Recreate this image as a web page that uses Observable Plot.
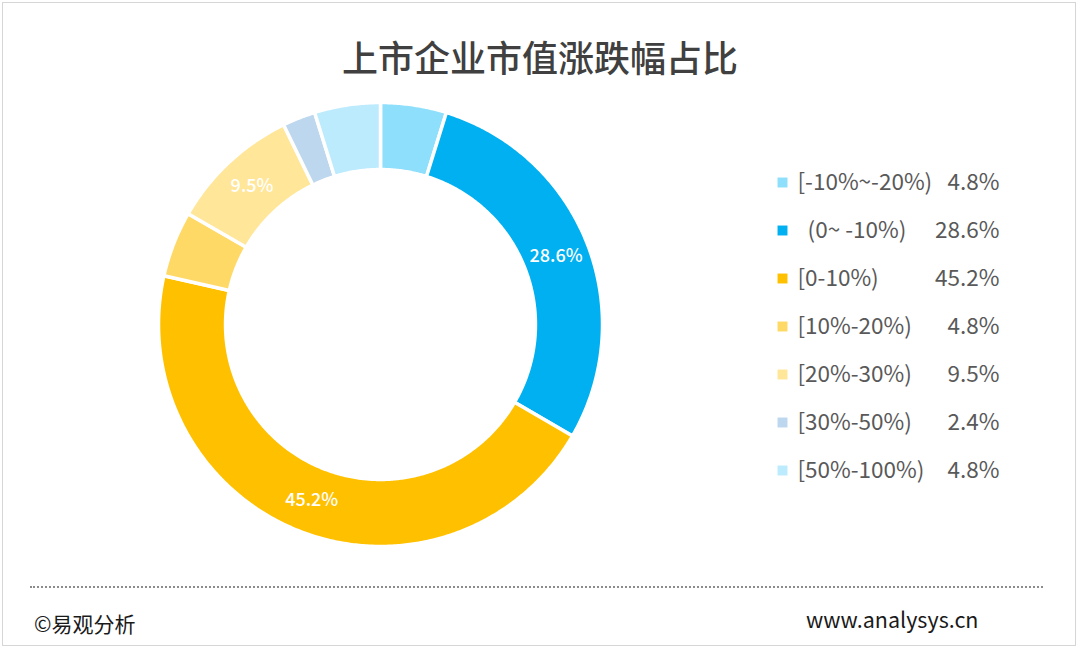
<!DOCTYPE html>
<html>
<head>
<meta charset="utf-8">
<script src="https://cdn.jsdelivr.net/npm/d3@7"></script>
<script src="https://cdn.jsdelivr.net/npm/@observablehq/plot@0.6"></script>
<style>
  html, body { margin: 0; padding: 0; background: #fff; }
  #wrap { position: relative; width: 1080px; height: 650px; overflow: hidden; font-family: "Noto Sans CJK SC", "Noto Sans", sans-serif; }
  #frame { position: absolute; left: 2px; top: 2px; width: 1074px; height: 644px; border: 1px solid #d6d6d6; box-sizing: border-box; }
  #title { position: absolute; left: 0; width: 1080px; top: 31px; text-align: center; font-size: 36px; color: #404040; line-height: 50px; font-weight: 500; }
  #donut { position: absolute; left: 150px; top: 94px; }
  #legend { position: absolute; left: 770px; top: 150px; }
  #dots { position: absolute; left: 30px; width: 1013px; top: 586px; border-top: 2px dotted #8c8c8c; }
  #src { position: absolute; left: 34px; top: 608px; font-size: 21px; color: #1a1a1a; line-height: 30px; }
  #url { position: absolute; left: 806px; top: 604px; font-size: 21.5px; color: #1a1a1a; line-height: 30px; }
</style>
</head>
<body>
<div id="wrap">
  <div id="frame"></div>
  <div id="title"></div>
  <div id="donut"></div>
  <div id="legend"></div>
  <div id="dots"></div>
  <div id="src">©易观分析</div>
  <div id="url">www.analysys.cn</div>
</div>
<script>
const titleText = "上市企业市值涨跌幅占比";
const categories = ["[-10%~-20%)", "\u00a0\u00a0(0~ -10%)", "[0-10%)", "[10%-20%)", "[20%-30%)", "[30%-50%)", "[50%-100%)"];
const values = [4.8, 28.6, 45.2, 4.8, 9.5, 2.4, 4.8];
const colors = ["#8EDFFB", "#00B0F0", "#FFC000", "#FFD966", "#FFE699", "#BDD7EE", "#BDEBFE"];

document.getElementById("title").textContent = titleText;

const innerRatio = 0.698;
const pie = d3.pie().sort(null).value(d => d.value)(categories.map((c, i) => ({cat: c, value: values[i]})));

// ring polygons from pie angles (clockwise from top)
const ringPts = [];
pie.forEach(p => {
  const steps = Math.max(2, Math.ceil((p.endAngle - p.startAngle) / (Math.PI / 360)));
  const pts = [];
  for (let k = 0; k <= steps; k++) {
    const a = p.startAngle + (p.endAngle - p.startAngle) * k / steps;
    pts.push({cat: p.data.cat, x: Math.sin(a), y: Math.cos(a)});
  }
  for (let k = steps; k >= 0; k--) {
    const a = p.startAngle + (p.endAngle - p.startAngle) * k / steps;
    pts.push({cat: p.data.cat, x: innerRatio * Math.sin(a), y: innerRatio * Math.cos(a)});
  }
  pts.push({...pts[0]});
  ringPts.push(...pts);
});

const midR = (1 + innerRatio) / 2;
const labels = pie.filter(p => p.data.value >= 9).map(p => {
  const a = (p.startAngle + p.endAngle) / 2;
  return {x: midR * Math.sin(a), y: midR * Math.cos(a), text: p.data.value.toFixed(1) + "%"};
});

const ext = 230 / 222;
const donut = Plot.plot({
  width: 460, height: 460,
  margin: 0,
  x: {domain: [-ext, ext], axis: null},
  y: {domain: [-ext, ext], axis: null},
  color: {domain: categories, range: colors},
  style: {fontFamily: "'Noto Sans CJK SC', 'Noto Sans', sans-serif", background: "transparent"},
  marks: [
    Plot.line(ringPts, {x: "x", y: "y", z: "cat", fill: "cat", stroke: "white", strokeWidth: 3.5, curve: "linear"}),
    Plot.text(labels, {x: "x", y: "y", text: "text", fill: "white", fontSize: 18, fontWeight: 500})
  ]
});
document.getElementById("donut").appendChild(donut);

const legendData = categories.map((c, i) => ({cat: c, value: values[i].toFixed(1) + "%"}));
const legend = Plot.plot({
  width: 250, height: 350,
  margin: 0,
  y: {type: "point", domain: categories, range: [31, 320], padding: 0, axis: null},
  color: {domain: categories, range: colors},
  style: {fontFamily: "'Noto Sans CJK SC', 'Noto Sans', sans-serif", background: "transparent"},
  marks: [
    Plot.dot(legendData, {y: "cat", fill: "cat", symbol: "square", r: 5.6, frameAnchor: "left", dx: 12}),
    Plot.text(legendData, {y: "cat", text: "cat", frameAnchor: "left", dx: 27, textAnchor: "start", fontSize: 22.5, fill: "#595959"}),
    Plot.text(legendData, {y: "cat", text: "value", frameAnchor: "right", dx: -21, textAnchor: "end", fontSize: 22.5, fill: "#595959"})
  ]
});
document.getElementById("legend").appendChild(legend);
</script>
</body>
</html>
